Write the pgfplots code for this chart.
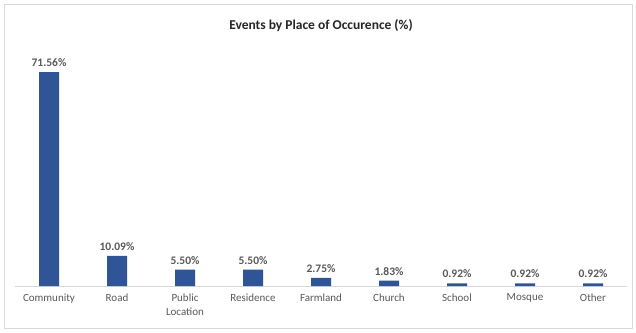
\documentclass[border=0pt]{standalone}
\usepackage{fontspec}
\setmainfont{Carlito}
\usepackage{pgfplots}
\pgfplotsset{compat=1.18}
\definecolor{barblue}{HTML}{2F5597}
\definecolor{txt}{HTML}{595959}
\definecolor{ttl}{HTML}{262626}
\definecolor{axgray}{HTML}{D9D9D9}
\begin{document}
\begin{tikzpicture}[x=1pt,y=1pt]
\fill[white] (-15,-46) rectangle (621,286);
\draw[axgray, line width=0.75pt] (-11,-42) rectangle (617,282);
\node[font=\fontsize{13.5}{15}\selectfont\bfseries, text=ttl] at (306,260) {Events by Place of Occurence (\%)};
\begin{axis}[
  at={(0,0)}, anchor=south west,
  scale only axis, width=612pt, height=239pt,
  xmin=-0.5, xmax=8.5, ymin=0, ymax=80,
  hide y axis,
  axis x line*=bottom,
  x axis line style={axgray, line width=0.75pt},
  xtick=data,
  xticklabels={Community,Road,{Public\\Location},Residence,Farmland,Church,School,Mosque,Other},
  xticklabel style={align=center, font=\fontsize{11}{14}\selectfont, text=txt, yshift=-4pt},
  major tick length=0pt,
  clip=false,
  ybar, bar width=20pt,
  /pgf/number format/assume math mode=true,
  nodes near coords={\pgfmathprintnumber[fixed,fixed zerofill,precision=2,assume math mode=true]{\pgfplotspointmeta}\%},
  nodes near coords style={font=\fontsize{11.5}{13}\selectfont\bfseries, text=txt, inner sep=5pt},
]
\addplot[fill=barblue, draw=none] coordinates {
(0,71.56) (1,10.09) (2,5.50) (3,5.50) (4,2.75) (5,1.83) (6,0.92) (7,0.92) (8,0.92)};
\end{axis}
\end{tikzpicture}
\end{document}
